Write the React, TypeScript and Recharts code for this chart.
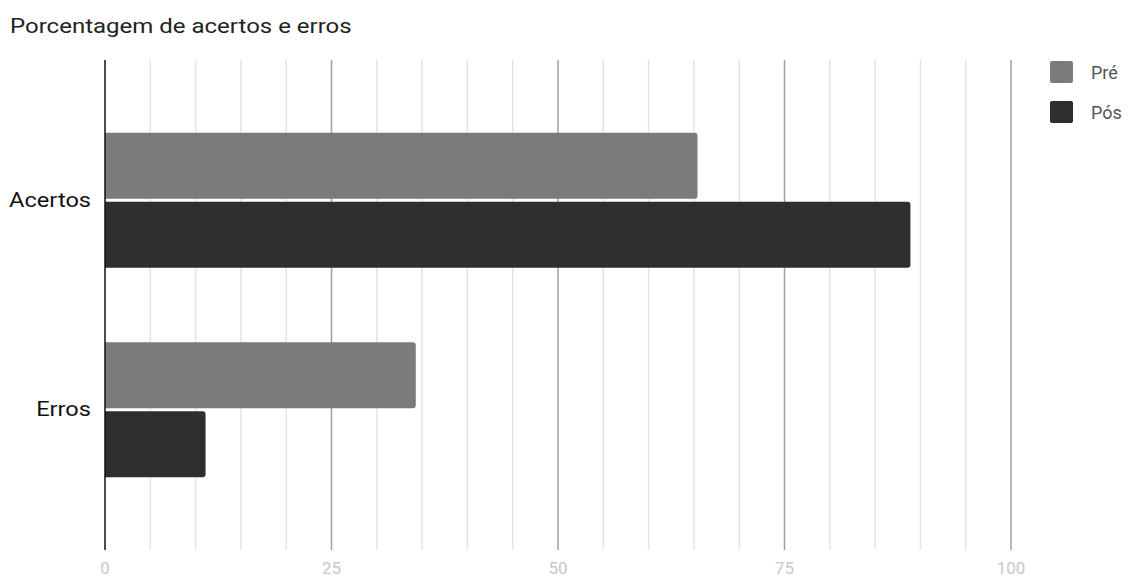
import { Bar, BarChart, CartesianGrid, XAxis, YAxis } from "recharts"

const categories = ["Acertos", "Erros"]
const preValues = [65.4, 34.3]
const posValues = [88.9, 11.1]
const xTicks = [0, 25, 50, 75, 100]
const minorLines = [5, 10, 15, 20, 30, 35, 40, 45, 55, 60, 65, 70, 80, 85, 90, 95]
const majorLines = [25, 50, 75, 100]

const PRE = "#7b7b7b"
const POS = "#2f2f2f"
const FONT = "Roboto, 'Noto Sans', sans-serif"

const data = categories.map((name, i) => ({
  name,
  pre: preValues[i],
  pos: posValues[i],
}))

// reference text is drawn a bit wide, so stretch horizontally
function CategoryTick(props: any) {
  const { x, y, payload } = props
  return (
    <text
      transform={`translate(${x - 12}, ${y}) scale(1.18, 1)`}
      textAnchor="end"
      dominantBaseline="central"
      fill="#111"
      fontSize={20}
      fontFamily={FONT}
    >
      {payload.value}
    </text>
  )
}

function LegendBox() {
  const items = [
    { label: "Pré", color: PRE },
    { label: "Pós", color: POS },
  ]
  return (
    <div style={{ position: "absolute", left: 1050, top: 52, fontFamily: FONT }}>
      {items.map((it) => (
        <div key={it.label} style={{ display: "flex", alignItems: "center", height: 40 }}>
          <div style={{ width: 23, height: 22, background: it.color, borderRadius: 2, marginRight: 18 }} />
          <span style={{ fontSize: 18, color: "#555" }}>{it.label}</span>
        </div>
      ))}
    </div>
  )
}

export default function App() {
  return (
    <div style={{ position: "absolute", left: 0, top: 0, width: 1131, height: 577, background: "#fff" }}>
      <BarChart
        width={1131}
        height={577}
        data={data}
        layout="vertical"
        margin={{ top: 60, right: 120, bottom: 0, left: 0 }}
        barCategoryGap="18%"
        barGap={3}
      >
        <CartesianGrid horizontal={false} stroke="#e4e4e4" strokeWidth={1.5} verticalValues={minorLines} />
        <CartesianGrid horizontal={false} stroke="#a0a0a0" strokeWidth={1.5} verticalValues={majorLines} />
        <XAxis
          type="number"
          domain={[0, 100]}
          ticks={xTicks}
          axisLine={false}
          tickLine={false}
          tickSize={0}
          tickMargin={12}
          height={27}
          tick={{ fill: "#c8c8c8", fontSize: 17, fontFamily: FONT }}
        />
        <YAxis
          type="category"
          dataKey="name"
          width={105}
          axisLine={{ stroke: "#111", strokeWidth: 1.5 }}
          tickLine={false}
          tickSize={0}
          padding={{ top: 35, bottom: 36 }}
          tick={<CategoryTick />}
        />
        <Bar dataKey="pre" name="Pré" fill={PRE} radius={[0, 3, 3, 0]} isAnimationActive={false} />
        <Bar dataKey="pos" name="Pós" fill={POS} radius={[0, 3, 3, 0]} isAnimationActive={false} />
      </BarChart>
      <div
        style={{
          position: "absolute",
          left: 10,
          top: 14,
          fontFamily: FONT,
          fontSize: 20,
          color: "#222",
          whiteSpace: "nowrap",
          transform: "scaleX(1.2)",
          transformOrigin: "left top",
        }}
      >
        Porcentagem de acertos e erros
      </div>
      <LegendBox />
    </div>
  )
}
